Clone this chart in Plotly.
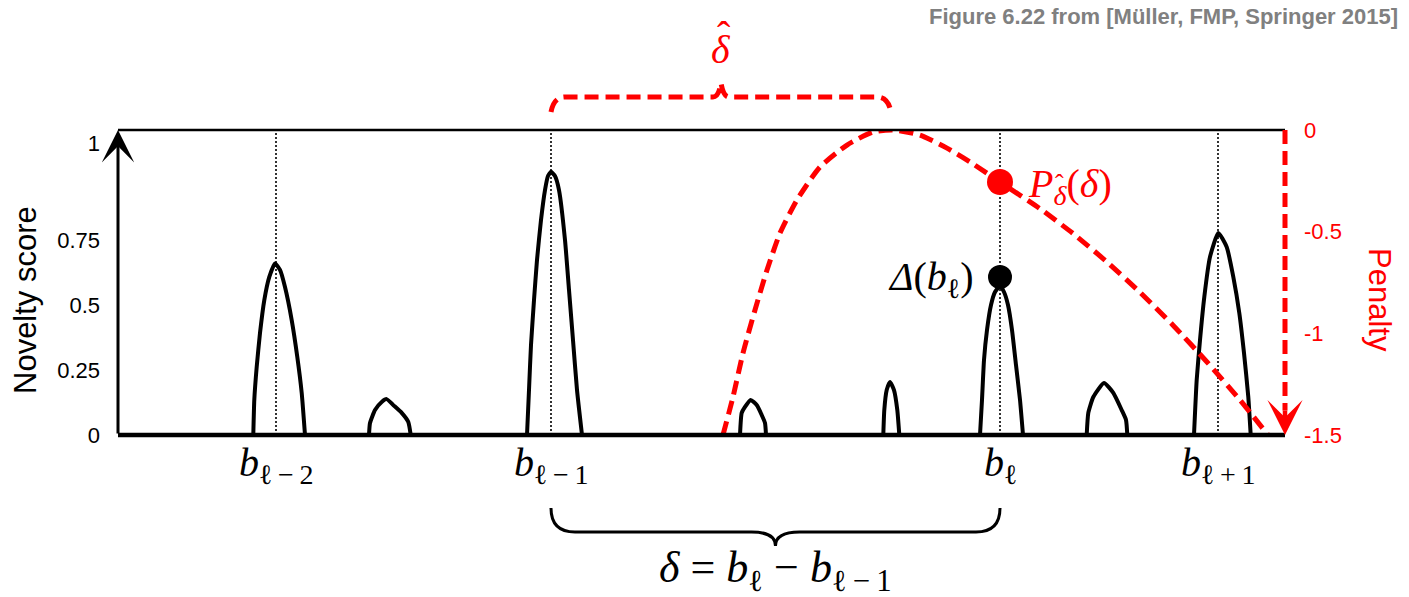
import plotly.graph_objects as go

# ---------------- data ----------------
# Novelty function Δ(t): time in seconds, novelty score
novelty_time = [
    0.0,
    1.353, 1.363, 1.387, 1.42, 1.463, 1.513, 1.57, 1.62, 1.67, 1.737, 1.793, 1.837, 1.87,
    2.51, 2.52, 2.57, 2.637, 2.687, 2.753, 2.837, 2.903, 2.927,
    4.09, 4.11, 4.13, 4.16, 4.19, 4.23, 4.27, 4.30, 4.33, 4.37, 4.41, 4.47, 4.51, 4.55, 4.59, 4.64,
    6.22, 6.237, 6.27, 6.327, 6.387, 6.437, 6.47, 6.48,
    7.653, 7.663, 7.687, 7.72, 7.76, 7.793, 7.813,
    8.62, 8.64, 8.66, 8.69, 8.73, 8.77, 8.82, 8.86, 8.90, 8.94, 8.98, 9.02, 9.05,
    9.687, 9.703, 9.753, 9.86, 9.953, 10.037, 10.08, 10.093,
    10.76, 10.787, 10.82, 10.863, 10.92, 11.003, 11.087, 11.153, 11.213, 11.26, 11.303, 11.327,
    11.67,
]
novelty_value = [
    0.0,
    0.0, 0.135, 0.262, 0.392, 0.519, 0.608, 0.660, 0.635, 0.569, 0.442, 0.300, 0.162, 0.0,
    0.0, 0.046, 0.096, 0.127, 0.138, 0.115, 0.085, 0.05, 0.0,
    0.0, 0.173, 0.346, 0.519, 0.673, 0.827, 0.942, 0.996, 1.012, 0.996, 0.942, 0.75, 0.558, 0.365, 0.173, 0.0,
    0.0, 0.085, 0.108, 0.135, 0.115, 0.077, 0.046, 0.0,
    0.0, 0.096, 0.173, 0.204, 0.173, 0.096, 0.0,
    0.0, 0.135, 0.288, 0.404, 0.5, 0.55, 0.573, 0.55, 0.5, 0.404, 0.269, 0.135, 0.0,
    0.0, 0.085, 0.146, 0.2, 0.162, 0.096, 0.058, 0.0,
    0.0, 0.212, 0.365, 0.531, 0.685, 0.777, 0.723, 0.608, 0.469, 0.315, 0.146, 0.0,
    0.0,
]

# beat positions
TS = "\u2009"  # thin space used for math-like spacing
beat_labels = ["<i>b</i><sub>ℓ" + TS + "−" + TS + "2</sub>",
               "<i>b</i><sub>ℓ" + TS + "−" + TS + "1</sub>",
               "<i>b</i><sub>ℓ</sub>",
               "<i>b</i><sub>ℓ" + TS + "+" + TS + "1</sub>"]
beat_times = [1.58, 4.33, 8.82, 11.00]

# penalty function P_δ̂(δ) drawn over time
penalty_time = [6.05, 6.15, 6.25, 6.37, 6.49, 6.62, 6.79, 7.02, 7.29, 7.55, 7.75,
                8.02, 8.29, 8.52, 8.82, 9.22, 9.55, 9.89, 10.22, 10.55, 10.89,
                11.22, 11.50]
penalty_value = [-1.50, -1.313, -1.097, -0.885, -0.689, -0.507, -0.344, -0.182,
                 -0.074, -0.010, 0.0, -0.025, -0.089, -0.157, -0.256, -0.387,
                 -0.509, -0.649, -0.798, -0.960, -1.141, -1.328, -1.50]

delta_hat = 3.40            # preferred beat period δ̂
novelty_at_bl = 0.608       # Δ(b_ℓ)
penalty_at_bl = -0.256      # P_δ̂(δ)

novelty_ticks = [0, 0.25, 0.5, 0.75, 1]
novelty_tick_labels = ["0", "0.25", "0.5", "0.75", "1"]
penalty_ticks = [0, -0.5, -1, -1.5]
penalty_tick_labels = ["0", "-0.5", "-1", "-1.5"]

# ---------------- layout constants ----------------
X_MIN, X_MAX = 0.0, 11.67
Y_MAX = 1.173
OFF = 8                      # page body margin of the html page
W, H = 1401, 589
ML, MT = 110, 122
PLOT_W, PLOT_H = 1167, 305
MR = W - ML - PLOT_W
MB = H - MT - PLOT_H

SERIF = "Liberation Serif, Times New Roman, DejaVu Serif, serif"
SANS = "Liberation Sans, Arial, sans-serif"
RED = "#ff0000"
DASH = "14px,7px"
HAT = "\u02c6"


def xp(t):
    return (t - X_MIN) / (X_MAX - X_MIN)


def px(s):
    """screen x -> paper x"""
    return (s - OFF - ML) / PLOT_W


def py(s):
    """screen y -> paper y"""
    return (H - MB - (s - OFF)) / PLOT_H


# split the novelty curve into its separate bumps (runs between zero segments)
bumps = []
current = []
for t, v in zip(novelty_time, novelty_value):
    if v == 0:
        if current and current[-1][1] != 0:
            current.append((t, v))
            bumps.append(current)
            current = []
        else:
            current = [(t, v)]
    else:
        current.append((t, v))

fig = go.Figure()

for bump in bumps:
    fig.add_trace(go.Scatter(x=[p[0] for p in bump], y=[p[1] for p in bump], mode="lines",
                             line=dict(color="black", width=4, shape="spline", smoothing=0.5),
                             hoverinfo="skip", showlegend=False))
fig.add_trace(go.Scatter(x=penalty_time, y=penalty_value, mode="lines", yaxis="y2",
                         line=dict(color=RED, width=5, dash=DASH, shape="spline",
                                   smoothing=0.6),
                         hoverinfo="skip", showlegend=False))
fig.add_trace(go.Scatter(x=[beat_times[2]], y=[novelty_at_bl], mode="markers",
                         marker=dict(color="black", size=24), showlegend=False))
fig.add_trace(go.Scatter(x=[beat_times[2]], y=[penalty_at_bl], mode="markers", yaxis="y2",
                         marker=dict(color=RED, size=26), showlegend=False))

shapes = []
# dotted beat lines
for t in beat_times:
    shapes.append(dict(type="line", xref="x", yref="paper", x0=t, x1=t, y0=0, y1=1,
                       line=dict(color="black", width=1.6, dash="2px,2px"), layer="below"))
# top frame line
shapes.append(dict(type="line", xref="paper", yref="paper", x0=0, x1=1, y0=1, y1=1,
                   line=dict(color="black", width=2.5)))
# bottom axis line
shapes.append(dict(type="line", xref="paper", yref="paper", x0=0, x1=1, y0=0, y1=0,
                   line=dict(color="black", width=4.5)))
# right red dashed penalty axis
shapes.append(dict(type="line", xref="paper", yref="paper", x0=1, x1=1, y0=1, y1=0.08,
                   line=dict(color=RED, width=5, dash=DASH)))

# bottom brace between b_{l-1} and b_l
a, b = xp(beat_times[1]), xp(beat_times[2])
m = (a + b) / 2
r = 24 / PLOT_W
ye, yh, yt = py(508), py(532), py(546)
brace_bottom = (f"M {a},{ye} Q {a},{yh} {a + r},{yh} L {m - r},{yh} Q {m},{yh} {m},{yt} "
                f"Q {m},{yh} {m + r},{yh} L {b - r},{yh} Q {b},{yh} {b},{ye}")
shapes.append(dict(type="path", xref="paper", yref="paper", path=brace_bottom,
                   line=dict(color="black", width=3)))

# top brace (red dashed) for δ̂
a2, b2 = xp(beat_times[1]), xp(beat_times[1] + delta_hat)
m2 = (a2 + b2) / 2
r2 = 14 / PLOT_W
s2 = 8 / PLOT_W
ye2, yh2, yt2 = py(112), py(97), py(83)
brace_top = (f"M {a2},{ye2} Q {a2 + 0.2 * r2},{yh2} {a2 + r2},{yh2} L {m2 - s2},{yh2} "
             f"Q {m2 - 0.3 * s2},{yh2} {m2},{yt2} Q {m2 + 0.3 * s2},{yh2} {m2 + s2},{yh2} "
             f"L {b2 - r2},{yh2} Q {b2 - 0.2 * r2},{yh2} {b2},{ye2}")
shapes.append(dict(type="path", xref="paper", yref="paper", path=brace_top,
                   line=dict(color=RED, width=5, dash=DASH)))

annotations = []
# left axis arrow
annotations.append(dict(x=0, y=1, xref="paper", yref="paper", ax=0, ay=PLOT_H,
                        axref="pixel", ayref="pixel", text="", showarrow=True,
                        arrowhead=3, arrowsize=1.8, arrowwidth=3, arrowcolor="black"))
# red arrow head at bottom of penalty axis
annotations.append(dict(x=1, y=0, xref="paper", yref="paper", ax=0, ay=-26,
                        text="", showarrow=True, arrowhead=3, arrowsize=1.3,
                        arrowwidth=4.5, arrowcolor=RED))
# beat labels
for t, lab in zip(beat_times, beat_labels):
    annotations.append(dict(x=t, y=py(465), xref="x", yref="paper", text=lab,
                            showarrow=False, xanchor="center", yanchor="middle",
                            font=dict(family=SERIF, size=40, color="black")))
# Δ(b_ℓ)
annotations.append(dict(x=beat_times[2], y=novelty_at_bl, xref="x", yref="y",
                        text="<i>Δ</i>(<i>b</i><sub>ℓ</sub>)", showarrow=False,
                        xanchor="right", yanchor="middle", xshift=-24, yshift=-2,
                        font=dict(family=SERIF, size=40, color="black")))
# P_δ̂(δ)
annotations.append(dict(x=beat_times[2], y=penalty_at_bl, xref="x", yref="y2",
                        text="<i>P</i><sub><i>δ</i></sub>(<i>δ</i>)",
                        showarrow=False,
                        xanchor="left", yanchor="middle", xshift=26, yshift=-4,
                        font=dict(family=SERIF, size=40, color=RED)))
annotations.append(dict(x=beat_times[2], y=penalty_at_bl, xref="x", yref="y2",
                        text=HAT, showarrow=False, xanchor="center", yanchor="middle",
                        xshift=59, yshift=-1,
                        font=dict(family=SERIF, size=26, color=RED)))
# δ̂ over top brace
annotations.append(dict(x=m2, y=py(50), xref="paper", yref="paper", text="<i>δ</i>",
                        showarrow=False, xanchor="center", yanchor="middle",
                        font=dict(family=SERIF, size=40, color=RED)))
annotations.append(dict(x=m2, y=py(50), xref="paper", yref="paper", text=HAT,
                        showarrow=False, xanchor="center", yanchor="middle",
                        xshift=3, yshift=14,
                        font=dict(family=SERIF, size=40, color=RED)))
# formula under bottom brace
annotations.append(dict(x=m, y=py(570), xref="paper", yref="paper",
                        text=("<i>δ</i> = <i>b</i><sub>ℓ</sub> − <i>b</i><sub>ℓ" + TS + "−" + TS + "1</sub>"),
                        showarrow=False, xanchor="center", yanchor="middle",
                        font=dict(family=SERIF, size=44, color="black")))
# axis titles
annotations.append(dict(x=px(25), y=py(300), xref="paper", yref="paper",
                        text="Novelty score", textangle=-90, showarrow=False,
                        xanchor="center", yanchor="middle",
                        font=dict(family=SANS, size=31, color="black")))
annotations.append(dict(x=px(1380), y=py(300), xref="paper", yref="paper",
                        text="Penalty", textangle=90, showarrow=False,
                        xanchor="center", yanchor="middle",
                        font=dict(family=SANS, size=31, color=RED)))
# source title
annotations.append(dict(x=px(1400), y=py(17), xref="paper", yref="paper",
                        text="<b>Figure 6.22 from [Müller, FMP, Springer 2015]</b>",
                        showarrow=False, xanchor="right", yanchor="middle",
                        font=dict(family=SANS, size=22, color="#808080")))

tick_pos = novelty_ticks[:-1] + [Y_MAX - 0.05]

fig.update_layout(
    width=W, height=H,
    margin=dict(l=ML, r=MR, t=MT, b=MB),
    paper_bgcolor="white", plot_bgcolor="white",
    showlegend=False,
    xaxis=dict(range=[X_MIN, X_MAX], showgrid=False, zeroline=False,
               showticklabels=False, ticks="", showline=False),
    yaxis=dict(range=[0, Y_MAX], showgrid=False, zeroline=False, showline=False,
               tickvals=tick_pos, ticktext=novelty_tick_labels, ticks="",
               ticklabelstandoff=17,
               tickfont=dict(family=SANS, size=22, color="black")),
    yaxis2=dict(range=[-1.5, 0], overlaying="y", side="right", showgrid=False,
                zeroline=False, showline=False, tickvals=penalty_ticks,
                ticktext=penalty_tick_labels, ticks="", ticklabelstandoff=18,
                tickfont=dict(family=SANS, size=22, color=RED)),
    shapes=shapes,
    annotations=annotations,
)

fig.write_html("out.html")
